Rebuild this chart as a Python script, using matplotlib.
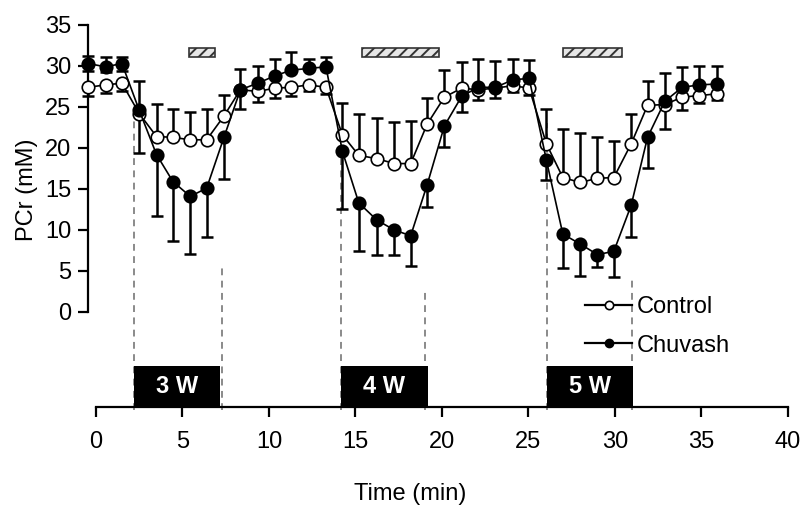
import numpy as np
import matplotlib
matplotlib.use("Agg")
import matplotlib.pyplot as plt
from matplotlib.lines import Line2D
from matplotlib.patches import Rectangle

plt.rcParams['font.family'] = ['Liberation Sans', 'DejaVu Sans']
plt.rcParams['hatch.linewidth'] = 1.4

# ---- data ----
time_min = np.array([-0.45, 0.55, 1.5, 2.5, 3.5, 4.45, 5.45, 6.4, 7.4, 8.35,
                     9.35, 10.35, 11.3, 12.3, 13.3, 14.25, 15.2, 16.25, 17.25, 18.2,
                     19.15, 20.15, 21.15, 22.1, 23.1, 24.1, 25.05, 26.05, 27.0, 28.0,
                     29.0, 29.95, 30.95, 31.9, 32.9, 33.9, 34.9, 35.9])

control = np.array([27.4, 27.7, 27.9, 24.2, 21.4, 21.3, 21.0, 21.0, 23.9, 27.1,
                    26.9, 27.3, 27.4, 27.7, 27.4, 21.6, 19.1, 18.7, 18.1, 18.1,
                    22.9, 26.2, 27.3, 27.1, 27.3, 27.6, 27.3, 20.5, 16.4, 15.8,
                    16.3, 16.4, 20.5, 25.2, 25.3, 26.2, 26.4, 26.6])
control_err_up = np.array([0, 0, 0, 4.0, 4.0, 3.5, 3.4, 3.8, 2.6, 2.5,
                           0, 0, 0, 0, 0, 3.9, 5.0, 4.9, 5.1, 5.2,
                           3.2, 3.3, 3.2, 0, 0, 0, 0, 4.3, 5.9, 6.0,
                           5.0, 4.5, 3.7, 3.0, 0, 0, 0, 0])
control_err_dn = np.array([1.0, 1.0, 1.0, 0, 0, 0, 0, 0, 0, 0,
                           1.3, 1.2, 1.0, 0.8, 0.8, 0, 0, 0, 0, 0,
                           0, 0, 0, 1.2, 1.2, 0.8, 0.8, 0, 0, 0,
                           0, 0, 0, 0, 3.0, 1.6, 0.9, 0.8])

chuvash = np.array([30.3, 29.9, 30.3, 24.6, 19.2, 15.9, 14.1, 15.1, 21.3, 27.1,
                    27.9, 28.8, 29.5, 29.7, 29.9, 19.6, 13.3, 11.2, 10.0, 9.3,
                    15.5, 22.7, 26.3, 27.4, 27.4, 28.3, 28.5, 18.5, 9.5, 8.3,
                    7.0, 7.4, 13.0, 21.3, 25.7, 27.4, 27.7, 27.8])
chuvash_err_up = np.array([0.9, 1.2, 0.8, 0, 0, 0, 0, 0, 0, 0,
                           2.1, 2.0, 2.2, 1.1, 1.2, 0, 0, 0, 0, 0,
                           0, 0, 0, 3.5, 3.2, 2.6, 2.2, 0, 0, 0,
                           0, 0, 0, 0, 3.5, 2.5, 2.3, 2.2])
chuvash_err_dn = np.array([0.9, 0.6, 0.9, 5.2, 7.5, 7.2, 7.0, 6.0, 5.1, 2.3,
                           0, 0, 0, 0, 0, 7.0, 5.9, 4.2, 3.1, 3.7,
                           2.7, 2.6, 1.9, 0, 0, 0, 0, 2.4, 4.1, 3.9,
                           1.5, 3.1, 3.9, 3.8, 0, 0, 0, 0])

# exercise bouts (start, end, label)
bout_start = [2.2, 14.15, 26.1]
bout_end = [7.2, 19.2, 31.05]
bout_labels = ['3 W', '4 W', '5 W']
# dashed markers (x, top value)
dash_x = [2.2, 7.3, 14.15, 19.0, 26.1, 31.0]
dash_top = [24.0, 6.0, 19.4, 2.4, 23.0, 3.9]
# hatched bars (significance)
hatch_start = [5.4, 15.4, 27.0]
hatch_end = [6.9, 19.85, 30.45]

x_ticks = [0, 5, 10, 15, 20, 25, 30, 35, 40]
y_ticks = [0, 5, 10, 15, 20, 25, 30, 35]

# ---- figure ----
W, H = 803, 507
fig = plt.figure(figsize=(W / 100, H / 100), dpi=100)
ax = fig.add_axes([70.07 / W, 1 - 406.7 / H, (792.8 - 70.07) / W, (406.7 - 16.8) / H])
ax.set_xlim(-1.5, 40.3)
y_bottom = -11.55
ax.set_ylim(y_bottom, 36)

# dashed vertical lines
for x, top in zip(dash_x, dash_top):
    ax.plot([x, x], [y_bottom - 0.4, top], color='#8a8a8a', lw=1.4,
            ls=(0, (3.5, 2.8)), zorder=1, clip_on=False)

# exercise boxes
for s, e, lab in zip(bout_start, bout_end, bout_labels):
    ax.add_patch(Rectangle((s, y_bottom), e - s, 5.0, facecolor='black',
                           edgecolor='none', zorder=2, clip_on=False))
    ax.text((s + e) / 2, y_bottom + 2.5, lab, color='white', fontsize=17,
            fontweight='bold', ha='center', va='center', zorder=3)

# hatched bars
for s, e in zip(hatch_start, hatch_end):
    ax.add_patch(Rectangle((s, 31.1), e - s, 1.1, facecolor='#e6e6e6',
                           edgecolor='#333333', hatch='///', lw=1.2, zorder=2))

# error bars
ax.errorbar(time_min, control, yerr=[control_err_dn, control_err_up], fmt='none',
            ecolor='black', elinewidth=1.8, capsize=4.3, capthick=1.8, zorder=3)
ax.errorbar(time_min, chuvash, yerr=[chuvash_err_dn, chuvash_err_up], fmt='none',
            ecolor='black', elinewidth=1.8, capsize=4.3, capthick=1.8, zorder=3)

# lines + markers
ax.plot(time_min, control, color='black', lw=1.2, marker='o', markersize=9,
        markerfacecolor='white', markeredgecolor='black', markeredgewidth=1.2,
        zorder=4)
ax.plot(time_min, chuvash, color='black', lw=1.2, marker='o', markersize=9,
        markerfacecolor='black', markeredgecolor='black', markeredgewidth=1.2,
        zorder=5)

# spines & ticks
for side in ('top', 'right'):
    ax.spines[side].set_visible(False)
ax.spines['left'].set_position(('data', -0.45))
ax.spines['left'].set_bounds(0, 35)
ax.spines['bottom'].set_bounds(0, 40)
for side in ('left', 'bottom'):
    ax.spines[side].set_linewidth(1.6)
ax.set_xticks(x_ticks)
ax.set_yticks(y_ticks)
ax.tick_params(axis='y', direction='out', length=7, width=1.6, pad=5, labelsize=17)
ax.tick_params(axis='x', direction='out', length=7.5, width=1.6, pad=10, labelsize=17)

fig.text(27 / W, 1 - 190 / H, 'PCr (mM)', rotation=90, ha='center', va='center',
         fontsize=17)
fig.text(410 / W, 1 - 494 / H, 'Time (min)', ha='center', va='center', fontsize=17)

# legend
handles = [
    Line2D([], [], color='black', lw=1.6, marker='o', markersize=6,
           markerfacecolor='white', markeredgecolor='black', markeredgewidth=1.2),
    Line2D([], [], color='black', lw=1.6, marker='o', markersize=6,
           markerfacecolor='black', markeredgecolor='black'),
]
ax.legend(handles, ['Control', 'Chuvash'], loc='upper left',
          bbox_to_anchor=(585 / W, 1 - 296 / H), bbox_transform=fig.transFigure,
          frameon=False, borderpad=0, borderaxespad=0, handlelength=2.0,
          handletextpad=0.2, labelspacing=0.7, fontsize=17)

fig.savefig('out.png', dpi=100)
